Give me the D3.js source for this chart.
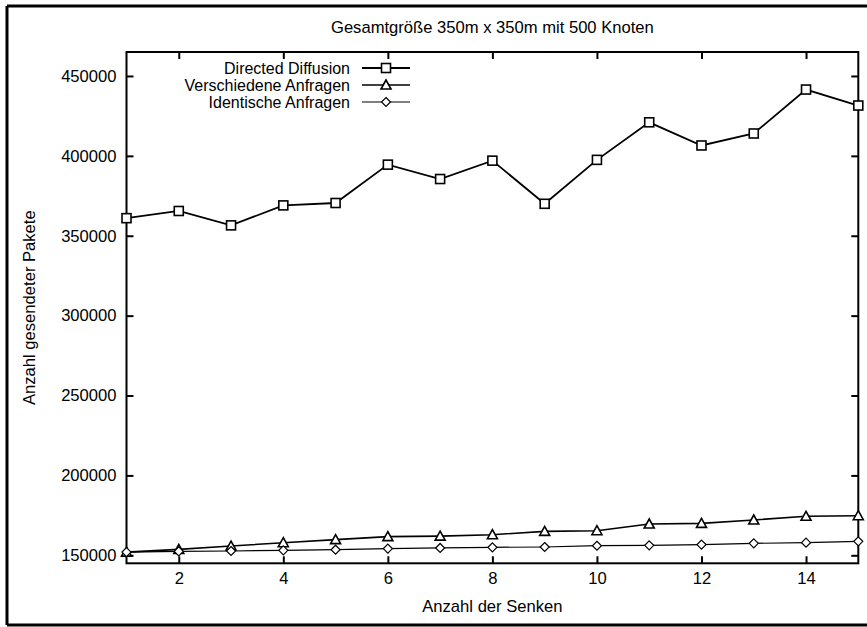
<!DOCTYPE html>
<html>
<head>
<meta charset="utf-8">
<script src="https://cdn.jsdelivr.net/npm/d3@7"></script>
<style>
  body { margin: 0; background: #fff; }
  text { font-family: "Liberation Sans", Arial, Helvetica, sans-serif; fill: #000; }
</style>
</head>
<body>
<div id="chart"></div>
<script>
var width = 867;
var height = 627;
var margin = {top: 52, right: 8.7, bottom: 63.7, left: 126.5};
var fontSize = 16.6;

// Werte
var senken = [1, 2, 3, 4, 5, 6, 7, 8, 9, 10, 11, 12, 13, 14, 15];
var directedDiffusion = [361000, 365500, 356500, 369000, 370500, 394500, 385500, 397000, 370000, 397500, 421000, 406500, 414000, 441500, 431500];
var verschiedeneAnfragen = [152000, 153700, 155800, 157900, 159800, 161700, 162000, 162900, 165000, 165400, 169600, 170000, 172100, 174400, 174800];
var identischeAnfragen = [152000, 152500, 152700, 153100, 153500, 154200, 154600, 155000, 155200, 156000, 156250, 156700, 157500, 157900, 158750];

var seriesNames = ["Directed Diffusion", "Verschiedene Anfragen", "Identische Anfragen"];
var seriesSymbols = ["square", "triangle", "diamond"];
var xTicks = [2, 4, 6, 8, 10, 12, 14];
var yTicks = [150000, 200000, 250000, 300000, 350000, 400000, 450000];
var yDomain = [145000, 465000];

var series = [directedDiffusion, verschiedeneAnfragen, identischeAnfragen].map(function(vals, i) {
  return {
    name: seriesNames[i],
    symbol: seriesSymbols[i],
    values: vals.map(function(v, j) { return {x: senken[j], y: v}; })
  };
});

var svg = d3.select("#chart").append("svg")
  .attr("width", width)
  .attr("height", height);

var x = d3.scaleLinear().domain([1, 15]).range([margin.left, width - margin.right]);
var y = d3.scaleLinear().domain(yDomain).range([height - margin.bottom, margin.top]);

// outer frame (only three sides visible)
var outer = svg.append("g").attr("stroke", "#000").attr("stroke-width", 3);
outer.append("line").attr("x1", 7).attr("y1", 6).attr("x2", width).attr("y2", 6);
outer.append("line").attr("x1", 7).attr("y1", 6).attr("x2", 7).attr("y2", 625);
outer.append("line").attr("x1", 7).attr("y1", 625).attr("x2", width).attr("y2", 625);

// axes, gnuplot style: ticks inside on all four sides
function styleAxis(g) {
  g.select(".domain").remove();
  g.selectAll(".tick line").attr("stroke", "#000").attr("stroke-width", 2);
  g.selectAll(".tick text").attr("font-size", fontSize).attr("fill", "#000");
}

svg.append("g")
  .attr("transform", "translate(" + margin.left + ",0)")
  .call(d3.axisLeft(y).tickValues(yTicks).tickSize(-7).tickPadding(10).tickFormat(d3.format("d")))
  .call(styleAxis);

svg.append("g")
  .attr("transform", "translate(" + (width - margin.right) + ",0)")
  .call(d3.axisRight(y).tickValues(yTicks).tickSize(-7).tickFormat(""))
  .call(styleAxis);

svg.append("g")
  .attr("transform", "translate(0," + (height - margin.bottom) + ")")
  .call(d3.axisBottom(x).tickValues(xTicks).tickSize(-7).tickPadding(9))
  .call(styleAxis);

svg.append("g")
  .attr("transform", "translate(0," + margin.top + ")")
  .call(d3.axisTop(x).tickValues(xTicks).tickSize(-7).tickFormat(""))
  .call(styleAxis);

// plot frame
svg.append("rect")
  .attr("x", x(1)).attr("y", y(yDomain[1]))
  .attr("width", x(15) - x(1)).attr("height", y(yDomain[0]) - y(yDomain[1]))
  .attr("fill", "none").attr("stroke", "#000").attr("stroke-width", 2);

// titles
svg.append("text")
  .attr("text-anchor", "middle")
  .attr("x", (x(1) + x(15)) / 2).attr("y", 33)
  .attr("font-size", fontSize)
  .text("Gesamtgröße 350m x 350m mit 500 Knoten");

svg.append("text")
  .attr("text-anchor", "middle")
  .attr("x", (x(1) + x(15)) / 2).attr("y", 612)
  .attr("font-size", fontSize)
  .text("Anzahl der Senken");

svg.append("text")
  .attr("text-anchor", "middle")
  .attr("transform", "translate(35," + ((y(yDomain[0]) + y(yDomain[1])) / 2) + ") rotate(-90)")
  .attr("font-size", fontSize)
  .text("Anzahl gesendeter Pakete");

// markers
function drawSymbol(g, type, cx, cy) {
  if (type === "square") {
    g.append("rect")
      .attr("x", cx - 4.5).attr("y", cy - 4.5).attr("width", 9).attr("height", 9)
      .attr("fill", "#fff").attr("stroke", "#000").attr("stroke-width", 1.6);
  } else if (type === "triangle") {
    g.append("path")
      .attr("d", "M" + cx + "," + (cy - 5) + "L" + (cx + 5) + "," + (cy + 4) + "L" + (cx - 5) + "," + (cy + 4) + "Z")
      .attr("fill", "#fff").attr("stroke", "#000").attr("stroke-width", 1.6);
  } else {
    g.append("path")
      .attr("d", "M" + cx + "," + (cy - 4.5) + "L" + (cx + 4.5) + "," + cy + "L" + cx + "," + (cy + 4.5) + "L" + (cx - 4.5) + "," + cy + "Z")
      .attr("fill", "#fff").attr("stroke", "#000").attr("stroke-width", 1.2);
  }
}

var line = d3.line()
  .x(function(d) { return x(d.x); })
  .y(function(d) { return y(d.y); });

var lineWidths = [1.8, 1.6, 1.2];

series.forEach(function(s, i) {
  var g = svg.append("g");
  g.append("path")
    .datum(s.values)
    .attr("d", line)
    .attr("fill", "none")
    .attr("stroke", "#000")
    .attr("stroke-width", lineWidths[i]);
  s.values.forEach(function(d) {
    drawSymbol(g, s.symbol, x(d.x), y(d.y));
  });
});

// legend
var legendY = [68, 85, 102];
series.forEach(function(s, i) {
  var g = svg.append("g");
  g.append("text")
    .attr("text-anchor", "end")
    .attr("x", 350).attr("y", legendY[i] + 5.5)
    .attr("font-size", 16)
    .text(s.name);
  g.append("line")
    .attr("x1", 362).attr("x2", 410)
    .attr("y1", legendY[i]).attr("y2", legendY[i])
    .attr("stroke", "#000").attr("stroke-width", lineWidths[i]);
  drawSymbol(g, s.symbol, 386, legendY[i]);
});
</script>
</body>
</html>
